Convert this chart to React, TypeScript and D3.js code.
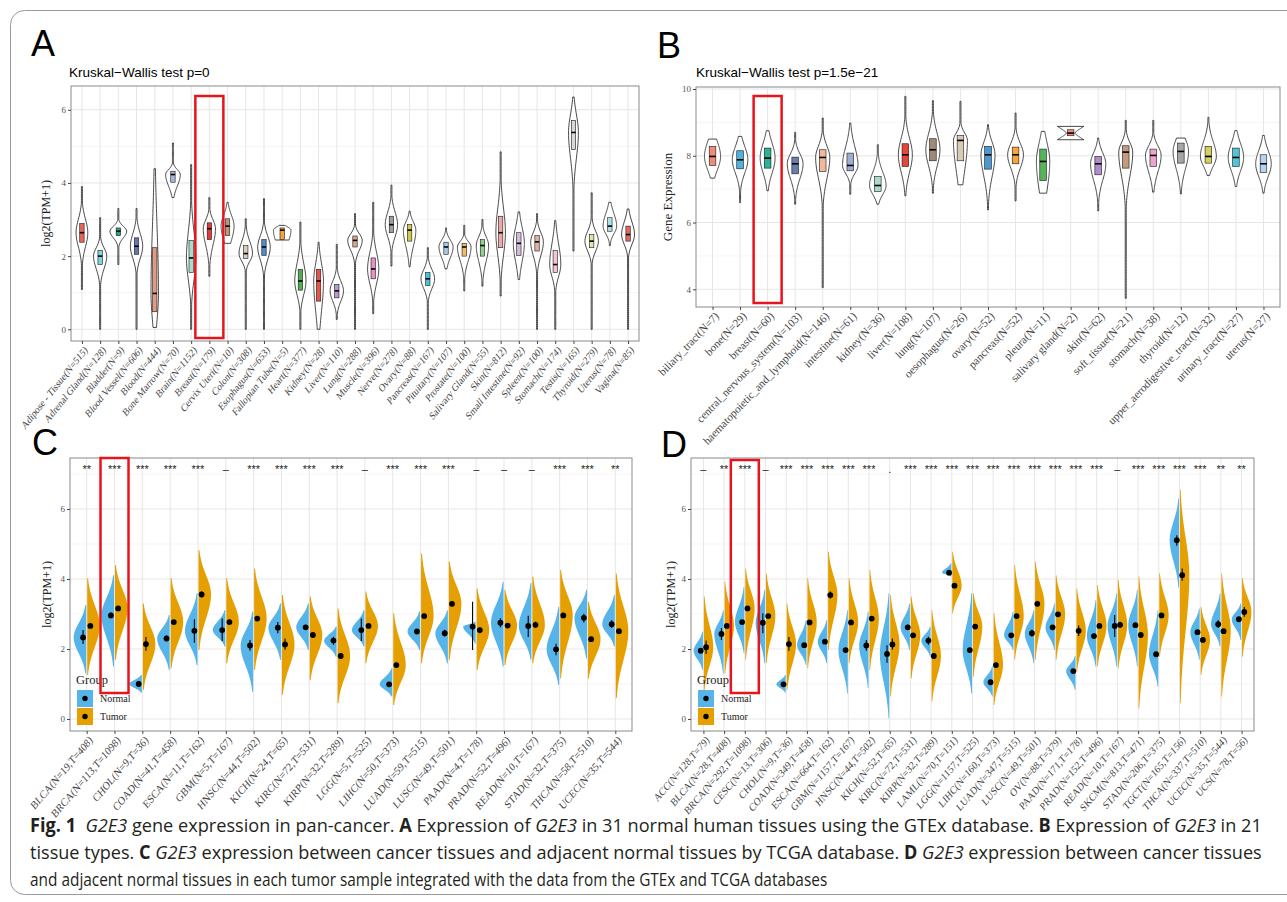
import React, { useEffect, useRef } from "react";
import * as d3 from "d3";

const W = 1287;
const H = 902;
const SERIF = "'Liberation Serif', 'DejaVu Serif', serif";
const SANS = "'Liberation Sans', Arial, sans-serif";
const CAPTION_FONT = "'Liberation Sans Narrow', 'Open Sans', 'Liberation Sans', sans-serif";
const BLUE = "#56B4E9";
const ORANGE = "#E69F00";

// ---------- Panel A: GTEx normal tissues ----------
const gtexTissues = [
  "Adipose - Tissue(N=515)", "Adrenal Gland(N=128)", "Bladder(N=9)", "Blood Vessel(N=606)", "Blood(N=444)",
  "Bone Marrow(N=70)", "Brain(N=1152)", "Breast(N=179)", "Cervix Uteri(N=10)", "Colon(N=308)",
  "Esophagus(N=653)", "Fallopian Tube(N=5)", "Heart(N=377)", "Kidney(N=28)", "Liver(N=110)",
  "Lung(N=288)", "Muscle(N=396)", "Nerve(N=278)", "Ovary(N=88)", "Pancreas(N=167)",
  "Pituitary(N=107)", "Prostate(N=100)", "Salivary Gland(N=55)", "Skin(N=812)", "Small Intestine(N=92)",
  "Spleen(N=100)", "Stomach(N=174)", "Testis(N=165)", "Thyroid(N=279)", "Uterus(N=78)", "Vagina(N=85)",
];
const gtexMedian = [2.64, 2.0, 2.68, 2.27, 0.98, 4.23, 1.95, 2.75, 2.82, 2.07, 2.25, 2.71, 1.32, 1.32, 1.05, 2.43, 1.65, 2.86, 2.71, 1.38, 2.25, 2.25, 2.29, 2.64, 2.35, 2.39, 1.77, 5.38, 2.41, 2.82, 2.59];
const gtexQ1 = [2.38, 1.77, 2.56, 2.05, 0.48, 4.02, 1.55, 2.45, 2.56, 1.93, 2.02, 2.45, 1.07, 0.77, 0.86, 2.25, 1.38, 2.64, 2.41, 1.2, 2.05, 2.0, 2.0, 2.23, 2.02, 2.14, 1.55, 4.91, 2.23, 2.68, 2.41];
const gtexQ3 = [2.89, 2.15, 2.77, 2.5, 2.23, 4.32, 2.43, 2.91, 3.02, 2.29, 2.45, 2.77, 1.64, 1.64, 1.23, 2.55, 1.95, 3.09, 2.86, 1.55, 2.38, 2.35, 2.45, 3.09, 2.64, 2.56, 2.15, 5.71, 2.59, 3.05, 2.82];
const gtexMin = [1.09, 0, 1.77, 0, 0.05, 3.6, 0, 1.45, 2.35, 0, 0, 2.44, 0, 0, 0.27, 0, 0.43, 1.73, 1.71, 0, 1.65, 1.05, 1.18, 0.91, 1.36, 0, 0, 2.14, 0, 2.29, 0];
const gtexMax = [3.9, 3.05, 3.3, 3.3, 4.39, 5.09, 4.5, 3.6, 3.47, 3.02, 3.57, 2.84, 2.93, 2.38, 2.32, 3.16, 3.47, 3.94, 3.23, 2.23, 2.77, 2.84, 3.0, 4.85, 3.21, 3.16, 2.97, 6.35, 3.73, 3.47, 3.29];
const gtexColors = [
  "#E7665B", "#7DD3E5", "#25A889", "#6677A8", "#E39A80", "#A9B9D6", "#A8DBCE", "#E33A3A", "#B09A80", "#D9CDB9",
  "#4F8CC9", "#F2A43A", "#4DB04A", "#E7544A", "#B49AD0", "#D8A68C", "#EE90C8", "#9E9E9E", "#CFCB47", "#47C4DA",
  "#A9CBEB", "#F9B866", "#8DD38D", "#F1A7A3", "#D3B9DE", "#E2B3A5", "#F2C4D4", "#D9D9D9", "#E3E3A3", "#A9E0EA", "#E7665B",
];

// ---------- Panel B: CCLE tissue types ----------
const cellTissues = [
  "biliary_tract(N=7)", "bone(N=29)", "breast(N=60)", "central_nervous_system(N=103)", "haematopoietic_and_lymphoid(N=146)",
  "intestine(N=61)", "kidney(N=36)", "liver(N=108)", "lung(N=107)", "oesophagus(N=26)", "ovary(N=52)",
  "pancreas(N=52)", "pleura(N=11)", "salivary gland(N=2)", "skin(N=62)", "soft_tissue(N=21)", "stomach(N=38)",
  "thyroid(N=12)", "upper_aerodigestive_tract(N=32)", "urinary_tract(N=27)", "uterus(N=27)",
];
const cellMedian = [7.98, 7.88, 7.93, 7.76, 7.95, 7.71, 7.11, 8.03, 8.18, 8.46, 8.03, 8.03, 7.83, 8.68, 7.76, 8.11, 8.01, 8.13, 7.98, 7.95, 7.76];
const cellQ1 = [7.71, 7.61, 7.63, 7.46, 7.53, 7.55, 6.93, 7.68, 7.85, 7.85, 7.6, 7.76, 7.26, 8.6, 7.43, 7.63, 7.68, 7.78, 7.78, 7.68, 7.5];
const cellQ3 = [8.28, 8.15, 8.23, 7.96, 8.18, 8.08, 7.38, 8.36, 8.51, 8.61, 8.28, 8.26, 8.2, 8.78, 7.98, 8.3, 8.2, 8.38, 8.28, 8.23, 8.03];
const cellMin = [7.33, 6.6, 6.95, 6.55, 4.05, 6.85, 6.55, 6.8, 6.88, 7.13, 6.38, 6.65, 6.88, 8.48, 6.35, 3.73, 6.91, 6.86, 7.41, 7.08, 6.88];
const cellMax = [8.5, 8.58, 8.75, 8.7, 9.13, 8.98, 8.33, 9.78, 9.65, 9.63, 8.93, 9.28, 8.73, 8.88, 8.53, 9.06, 9.06, 8.53, 9.15, 8.75, 8.61];
const cellColors = [
  "#F08A7A", "#4FB3E0", "#2BB39A", "#6A7DAF", "#F3B79E", "#9DAED0", "#A9DCCB", "#E5463B", "#A18A75", "#D8CAB6", "#4B98D3",
  "#F7A43A", "#56B45A", "#F08A7A", "#B28BCB", "#C49A80", "#EFA3CF", "#A6A6A6", "#D6D05D", "#4EC6D8", "#B8D3EE",
];
const bimodalTissues = ["salivary gland(N=2)"];

// ---------- Panel C: TCGA tumour vs adjacent normal ----------
const tcgaCancers = [
  "BLCA(N=19,T=408)", "BRCA(N=113,T=1098)", "CHOL(N=9,T=36)", "COAD(N=41,T=458)", "ESCA(N=11,T=162)",
  "GBM(N=5,T=167)", "HNSC(N=44,T=502)", "KICH(N=24,T=65)", "KIRC(N=72,T=531)", "KIRP(N=32,T=289)",
  "LGG(N=5,T=525)", "LIHC(N=50,T=373)", "LUAD(N=59,T=515)", "LUSC(N=49,T=501)", "PAAD(N=4,T=178)",
  "PRAD(N=52,T=496)", "READ(N=10,T=167)", "STAD(N=32,T=375)", "THCA(N=58,T=510)", "UCEC(N=35,T=544)",
];
const tcgaSig = ["**", "***", "***", "***", "***", "-", "***", "***", "***", "***", "-", "***", "***", "***", "-", "-", "-", "***", "***", "**"];
const tcgaNormalMid = [2.33, 2.96, 1.0, 2.3, 2.52, 2.54, 2.1, 2.61, 2.62, 2.24, 2.54, 0.99, 2.5, 2.45, 2.64, 2.75, 2.66, 1.99, 2.89, 2.71];
const tcgaNormalErrLo = [2.14, 2.88, 0.94, 2.22, 2.18, 2.23, 1.95, 2.45, 2.55, 2.12, 2.23, 0.95, 2.45, 2.36, 1.97, 2.62, 2.34, 1.82, 2.76, 2.6];
const tcgaNormalErrHi = [2.54, 3.04, 1.06, 2.38, 2.85, 2.87, 2.26, 2.77, 2.69, 2.35, 2.87, 1.03, 2.55, 2.55, 3.35, 2.88, 2.95, 2.15, 3.01, 2.82];
const tcgaNormalMin = [1.3, 1.5, 0.75, 1.4, 1.54, 2.07, 0.78, 1.69, 1.97, 1.78, 2.07, 0.64, 1.97, 1.59, 2.16, 1.5, 1.69, 0.97, 1.73, 2.07];
const tcgaNormalMax = [3.26, 4.11, 1.26, 2.97, 3.59, 3.11, 3.07, 3.3, 3.3, 2.64, 3.11, 1.45, 3.07, 3.11, 2.78, 3.92, 3.88, 3.21, 3.69, 3.54];
const tcgaTumorMid = [2.66, 3.16, 2.14, 2.77, 3.56, 2.77, 2.87, 2.13, 2.4, 1.8, 2.66, 1.54, 2.94, 3.29, 2.54, 2.67, 2.69, 2.96, 2.28, 2.51];
const tcgaTumorErrLo = [2.62, 3.12, 1.95, 2.72, 3.47, 2.7, 2.83, 1.98, 2.36, 1.76, 2.62, 1.5, 2.9, 3.25, 2.45, 2.63, 2.6, 2.92, 2.24, 2.45];
const tcgaTumorErrHi = [2.7, 3.2, 2.34, 2.82, 3.64, 2.84, 2.91, 2.3, 2.44, 1.84, 2.7, 1.58, 2.98, 3.33, 2.62, 2.71, 2.78, 3.0, 2.32, 2.57];
const tcgaTumorMin = [1.26, 1.69, 0.83, 1.45, 1.97, 1.59, 1.4, 0.69, 1.11, 0.45, 1.59, 0.4, 1.59, 1.69, 1.4, 1.54, 1.59, 1.16, 1.16, 0.59];
const tcgaTumorMax = [4.02, 4.4, 3.3, 4.02, 4.83, 4.02, 4.3, 3.54, 3.5, 3.16, 3.64, 3.02, 4.73, 4.5, 3.73, 3.69, 4.07, 4.26, 3.35, 4.16];

// ---------- Panel D: TCGA tumour vs GTEx + TCGA normal ----------
const pairCancers = [
  "ACC(N=128,T=79)", "BLCA(N=28,T=408)", "BRCA(N=292,T=1098)", "CESC(N=13,T=306)", "CHOL(N=9,T=36)",
  "COAD(N=349,T=458)", "ESCA(N=664,T=162)", "GBM(N=1157,T=167)", "HNSC(N=44,T=502)", "KICH(N=52,T=65)",
  "KIRC(N=72,T=531)", "KIRP(N=32,T=289)", "LAML(N=70,T=151)", "LGG(N=1157,T=525)", "LIHC(N=160,T=373)",
  "LUAD(N=347,T=515)", "LUSC(N=49,T=501)", "OV(N=88,T=379)", "PAAD(N=171,T=178)", "PRAD(N=152,T=496)",
  "READ(N=10,T=167)", "SKCM(N=813,T=471)", "STAD(N=206,T=375)", "TGCT(N=165,T=156)", "THCA(N=337,T=510)",
  "UCEC(N=35,T=544)", "UCS(N=78,T=56)",
];
const pairSig = ["-", "**", "***", "-", "***", "***", "***", "***", "***", ".", "***", "***", "***", "***", "***", "***", "***", "***", "***", "***", "-", "***", "***", "***", "***", "**", "**"];
const pairNormalMid = [1.95, 2.43, 2.77, 2.75, 0.99, 2.11, 2.21, 1.97, 2.1, 1.86, 2.62, 2.24, 4.18, 1.97, 1.05, 2.39, 2.45, 2.62, 1.37, 2.37, 2.66, 2.68, 1.85, 5.11, 2.48, 2.71, 2.85];
const pairNormalErrLo = [1.9, 2.26, 2.74, 2.45, 0.93, 2.08, 2.19, 1.95, 1.95, 1.61, 2.55, 2.12, 4.15, 1.95, 1.02, 2.35, 2.36, 2.58, 1.35, 2.33, 2.34, 2.64, 1.8, 4.95, 2.45, 2.6, 2.8];
const pairNormalErrHi = [2.0, 2.6, 2.8, 3.02, 1.06, 2.14, 2.23, 1.99, 2.26, 2.11, 2.69, 2.35, 4.21, 1.99, 1.08, 2.43, 2.55, 2.66, 1.4, 2.41, 2.97, 2.72, 1.9, 5.25, 2.51, 2.82, 2.9];
const pairNormalMin = [1.4, 1.3, 1.88, 1.59, 0.75, 1.54, 1.59, 0.73, 0.88, 0.02, 1.97, 1.78, 4.07, 0.73, 0.64, 1.97, 1.59, 1.97, 0.83, 1.5, 1.5, 1.5, 0.92, 3.75, 1.69, 2.07, 2.26];
const pairNormalMax = [2.5, 3.11, 3.78, 3.69, 1.26, 2.83, 2.83, 3.11, 3.07, 3.59, 3.3, 2.64, 4.45, 3.59, 1.5, 3.07, 3.11, 3.3, 1.8, 3.4, 3.59, 3.69, 3.11, 6.3, 3.16, 3.59, 3.3];
const pairTumorMid = [2.05, 2.66, 3.16, 2.94, 2.14, 2.76, 3.54, 2.76, 2.87, 2.13, 2.39, 1.8, 3.81, 2.64, 1.54, 2.94, 3.29, 2.99, 2.52, 2.66, 2.69, 2.4, 2.96, 4.11, 2.26, 2.51, 3.06];
const pairTumorErrLo = [1.86, 2.62, 3.12, 2.9, 1.95, 2.72, 3.44, 2.7, 2.83, 1.98, 2.35, 1.76, 3.76, 2.6, 1.5, 2.9, 3.25, 2.95, 2.37, 2.62, 2.6, 2.35, 2.92, 3.95, 2.22, 2.45, 2.92];
const pairTumorErrHi = [2.24, 2.7, 3.2, 2.98, 2.34, 2.8, 3.64, 2.82, 2.91, 2.3, 2.43, 1.84, 3.86, 2.68, 1.58, 2.98, 3.33, 3.03, 2.67, 2.7, 2.78, 2.45, 3.0, 4.3, 2.3, 2.57, 3.2];
const pairTumorMin = [0.83, 1.3, 1.69, 1.59, 0.83, 1.45, 1.97, 1.59, 1.4, 0.64, 1.16, 0.5, 3.02, 1.21, 0.4, 1.69, 1.69, 1.69, 1.35, 1.5, 1.45, 0.3, 1.78, 0.45, 1.26, 0.64, 1.78];
const pairTumorMax = [3.5, 3.92, 4.3, 4.16, 3.3, 4.02, 4.78, 4.02, 4.26, 3.54, 3.5, 3.11, 4.78, 3.59, 3.02, 4.4, 4.5, 4.11, 3.73, 3.83, 3.97, 4.07, 4.16, 6.55, 3.21, 4.16, 4.02];

const groups = ["Normal", "Tumor"];

// caption pieces: [style, text]
const captionLines: [string, string][][] = [
  [["b", "Fig. 1"], ["", "  "], ["i", "G2E3"], ["", " gene expression in pan-cancer. "], ["b", "A"], ["", " Expression of "], ["i", "G2E3"],
   ["", " in 31 normal human tissues using the GTEx database. "], ["b", "B"], ["", " Expression of "], ["i", "G2E3"], ["", " in 21"]],
  [["", "tissue types. "], ["b", "C"], ["", " "], ["i", "G2E3"], ["", " expression between cancer tissues and adjacent normal tissues by TCGA database. "],
   ["b", "D"], ["", " "], ["i", "G2E3"], ["", " expression between cancer tissues"]],
  [["", "and adjacent normal tissues in each tumor sample integrated with the data from the GTEx and TCGA databases"]],
];

type Box = { x0: number; x1: number; y0: number; y1: number };

// background, grid, returns scales
function makeFrame(g: any, cats: string[], box: Box, yDomain: number[], majors: number[], minors: number[]) {
  const x = d3.scalePoint<string>().domain(cats).range([box.x0, box.x1]).padding(0.6);
  const y = d3.scaleLinear().domain(yDomain).range([box.y1, box.y0]);
  g.append("rect").attr("x", box.x0).attr("y", box.y0).attr("width", box.x1 - box.x0).attr("height", box.y1 - box.y0).attr("fill", "#fff");
  g.selectAll(".minor").data(minors).join("line").attr("class", "minor")
    .attr("x1", box.x0).attr("x2", box.x1).attr("y1", (d: number) => y(d)).attr("y2", (d: number) => y(d))
    .attr("stroke", "#EFEFEF").attr("stroke-width", 0.6);
  g.selectAll(".majory").data(majors).join("line").attr("class", "majory")
    .attr("x1", box.x0).attr("x2", box.x1).attr("y1", (d: number) => y(d)).attr("y2", (d: number) => y(d))
    .attr("stroke", "#E6E6E6").attr("stroke-width", 1);
  g.selectAll(".majorx").data(cats).join("line").attr("class", "majorx")
    .attr("x1", (d: string) => x(d)).attr("x2", (d: string) => x(d)).attr("y1", box.y0).attr("y2", box.y1)
    .attr("stroke", "#E6E6E6").attr("stroke-width", 1);
  return { x, y };
}

// border, axes, tick labels
function drawAxes(g: any, x: any, y: any, box: Box, majors: number[], labelSize: number, squeeze: number,
  yTitle: string, yTitleX: number, yTitleSize: number) {
  g.append("rect").attr("x", box.x0).attr("y", box.y0).attr("width", box.x1 - box.x0).attr("height", box.y1 - box.y0)
    .attr("fill", "none").attr("stroke", "#8a8a8a").attr("stroke-width", 1);

  const ya = g.append("g").attr("transform", `translate(${box.x0},0)`)
    .call(d3.axisLeft(y).tickValues(majors).tickSize(3).tickPadding(2).tickFormat(d3.format("d")));
  ya.select(".domain").remove();
  ya.selectAll("line").attr("stroke", "#444");
  ya.selectAll("text").attr("font-family", SERIF).attr("font-size", 9).attr("fill", "#555");

  const xa = g.append("g").attr("transform", `translate(0,${box.y1})`).call(d3.axisBottom(x).tickSize(3));
  xa.select(".domain").remove();
  xa.selectAll("line").attr("stroke", "#444");
  xa.selectAll("text")
    .attr("x", 0).attr("y", 0).attr("dy", "0.6em")
    .attr("text-anchor", "end")
    .attr("transform", `translate(2,5) scale(${squeeze},1) rotate(-45)`)
    .attr("font-family", SERIF).attr("font-size", labelSize).attr("fill", "#444");

  g.append("text").attr("transform", `translate(${yTitleX},${(box.y0 + box.y1) / 2}) rotate(-90)`)
    .attr("text-anchor", "middle").attr("font-family", SERIF).attr("font-size", yTitleSize).attr("fill", "#222").text(yTitle);
}

function drawFullViolins(g: any, x: any, y: any, cats: string[], med: number[], q1: number[], q3: number[],
  lo: number[], hi: number[], colors: string[], bimodal: string[]) {
  const step = x.step();
  const n = 60;
  const grids = cats.map((_, i) => d3.range(n + 1).map((k) => lo[i] + ((hi[i] - lo[i]) * k) / n));
  const fs = cats.map((c, i) => (v: number) => {
    if (bimodal.includes(c)) {
      const r = Math.abs(v - med[i]) / Math.max(hi[i] - med[i], med[i] - lo[i]);
      return 0.3 + 0.7 * Math.pow(r, 1.2);
    }
    const s = v >= med[i] ? (q3[i] - med[i]) / 0.6745 : (med[i] - q1[i]) / 0.6745;
    const z = (v - med[i]) / Math.max(s, 0.03);
    return Math.exp(-0.5 * z * z);
  });
  const areas = grids.map((gr, i) => (d3.sum(gr, (v) => fs[i](v)) * (hi[i] - lo[i])) / n);
  const k = areas.map((a) => Math.pow(a, -0.4));
  const kMax = d3.max(k) as number;
  const line = d3.line();
  cats.forEach((c, i) => {
    const cx = x(c);
    const hw = (0.48 * step * k[i]) / kMax;
    const right = grids[i].map((v) => [cx + Math.max(hw * fs[i](v), 0.5), y(v)]);
    const left = grids[i].slice().reverse().map((v) => [cx - Math.max(hw * fs[i](v), 0.5), y(v)]);
    g.append("path").attr("d", line([...right, ...left] as any) + "Z")
      .attr("fill", "#fff").attr("stroke", "#1a1a1a").attr("stroke-width", 0.8);
    const bw = 0.24 * step;
    g.append("rect").attr("x", cx - bw / 2).attr("y", y(q3[i])).attr("width", bw).attr("height", y(q1[i]) - y(q3[i]))
      .attr("fill", colors[i]).attr("stroke", "#1a1a1a").attr("stroke-width", 0.6);
    g.append("line").attr("x1", cx - bw / 2).attr("x2", cx + bw / 2).attr("y1", y(med[i])).attr("y2", y(med[i]))
      .attr("stroke", "#000").attr("stroke-width", 1.6);
  });
}

function drawSplitViolins(g: any, x: any, y: any, cats: string[],
  nMid: number[], nLo: number[], nHi: number[], nEl: number[], nEh: number[],
  tMid: number[], tLo: number[], tHi: number[], tEl: number[], tEh: number[]) {
  const step = x.step();
  const hw = 0.45 * step;
  const off = 0.13 * step;
  const line = d3.line();
  const half = (cx: number, dir: number, mid: number, lo: number, hi: number, color: string) => {
    const grid = d3.range(61).map((k) => lo + ((hi - lo) * k) / 60);
    const f = (v: number) => {
      const s = (v >= mid ? hi - mid : mid - lo) / 2.3;
      const z = (v - mid) / Math.max(s, 0.02);
      return Math.exp(-0.5 * z * z);
    };
    const pts = [[cx + dir * 0.5, y(lo)], ...grid.map((v) => [cx + dir * (0.5 + hw * f(v)), y(v)]), [cx + dir * 0.5, y(hi)]];
    g.append("path").attr("d", line(pts as any) + "Z").attr("fill", color);
  };
  cats.forEach((c, i) => {
    const cx = x(c);
    half(cx, -1, nMid[i], nLo[i], nHi[i], BLUE);
    half(cx, 1, tMid[i], tLo[i], tHi[i], ORANGE);
  });
  cats.forEach((c, i) => {
    const cx = x(c);
    [[cx - off, nMid[i], nEl[i], nEh[i]], [cx + off, tMid[i], tEl[i], tEh[i]]].forEach(([px, m, el, eh]) => {
      g.append("line").attr("x1", px).attr("x2", px).attr("y1", y(el)).attr("y2", y(eh)).attr("stroke", "#000").attr("stroke-width", 1.1);
      g.append("circle").attr("cx", px).attr("cy", y(m)).attr("r", 2.9).attr("fill", "#000");
    });
  });
}

function drawSig(g: any, x: any, box: Box, cats: string[], sig: string[]) {
  g.selectAll(".sig").data(cats).join("text").attr("class", "sig")
    .attr("x", (d: string) => x(d)).attr("y", box.y0 + 15)
    .attr("text-anchor", "middle").attr("font-family", SANS).attr("font-size", 11).attr("fill", "#222")
    .text((_: string, i: number) => (sig[i] === "-" ? "–" : sig[i]));
}

function drawLegend(g: any, lx: number, ly: number) {
  g.append("text").attr("x", lx).attr("y", ly).attr("font-family", SERIF).attr("font-size", 12.5).attr("fill", "#222").text("Group");
  groups.forEach((name, i) => {
    const top = ly + 6 + i * 18;
    g.append("rect").attr("x", lx + 1).attr("y", top).attr("width", 16).attr("height", 17).attr("fill", i === 0 ? BLUE : ORANGE);
    g.append("circle").attr("cx", lx + 9).attr("cy", top + 8.5).attr("r", 2.7).attr("fill", "#000");
    g.append("text").attr("x", lx + 24).attr("y", top + 12).attr("font-family", SERIF).attr("font-size", 10).attr("fill", "#222").text(name);
  });
}

function highlight(g: any, x: any, cat: string, top: number, bottom: number) {
  const cx = x(cat);
  g.append("rect").attr("x", cx - 14).attr("y", top).attr("width", 28).attr("height", bottom - top)
    .attr("fill", "none").attr("stroke", "#E8141B").attr("stroke-width", 2.5);
}

export default function App() {
  const svgRef = useRef<SVGSVGElement>(null);

  useEffect(() => {
    const svg = d3.select(svgRef.current);
    svg.selectAll("*").remove();
    svg.append("rect").attr("width", W).attr("height", H).attr("fill", "#fff");

    const defs = svg.append("defs");
    const clip = (id: string, x0: number, w: number) =>
      defs.append("clipPath").attr("id", id).append("rect").attr("x", x0).attr("y", 0).attr("width", w).attr("height", H);
    clip("clipA", 20, 621);
    clip("clipB", 641, 646);
    clip("clipC", 30, 611);
    clip("clipD", 641, 646);

    // outer frame
    svg.append("rect").attr("x", 10.5).attr("y", 10.5).attr("width", 1300).attr("height", 884).attr("rx", 14)
      .attr("fill", "none").attr("stroke", "#9a9a9a").attr("stroke-width", 1);

    const letter = (t: string, lx: number, ly: number) =>
      svg.append("text").attr("x", lx).attr("y", ly).attr("font-family", SANS).attr("font-size", 36).attr("fill", "#000").text(t);

    // Panel A
    {
      const g = svg.append("g").attr("clip-path", "url(#clipA)");
      const box = { x0: 71, x1: 639, y0: 86, y1: 341 };
      const { x, y } = makeFrame(g, gtexTissues, box, [-0.32, 6.65], [0, 2, 4, 6], [1, 3, 5]);
      drawFullViolins(g, x, y, gtexTissues, gtexMedian, gtexQ1, gtexQ3, gtexMin, gtexMax, gtexColors, []);
      drawAxes(g, x, y, box, [0, 2, 4, 6], 11, 0.8, "log2(TPM+1)", 50, 12);
      highlight(g, x, "Breast(N=179)", 96, 338);
      letter("A", 31, 56);
      svg.append("text").attr("x", 69).attr("y", 77).attr("font-family", SANS).attr("font-size", 13.5).text("Kruskal\u2212Wallis test p=0");
    }

    // Panel B
    {
      const g = svg.append("g").attr("clip-path", "url(#clipB)");
      const box = { x0: 696, x1: 1280, y0: 87, y1: 307 };
      const { x, y } = makeFrame(g, cellTissues, box, [3.47, 10.06], [4, 6, 8, 10], [5, 7, 9]);
      drawFullViolins(g, x, y, cellTissues, cellMedian, cellQ1, cellQ3, cellMin, cellMax, cellColors, bimodalTissues);
      drawAxes(g, x, y, box, [4, 6, 8, 10], 11.5, 0.95, "Gene Expression", 672, 13);
      highlight(g, x, "breast(N=60)", 96, 303);
      letter("B", 657, 58);
      svg.append("text").attr("x", 696).attr("y", 77).attr("font-family", SANS).attr("font-size", 13.5).text("Kruskal\u2212Wallis test p=1.5e\u221221");
    }

    // Panel C
    {
      const g = svg.append("g").attr("clip-path", "url(#clipC)");
      const box = { x0: 70, x1: 632, y0: 458, y1: 731 };
      const { x, y } = makeFrame(g, tcgaCancers, box, [-0.343, 7.457], [0, 2, 4, 6], [1, 3, 5, 7]);
      drawSplitViolins(g, x, y, tcgaCancers,
        tcgaNormalMid, tcgaNormalMin, tcgaNormalMax, tcgaNormalErrLo, tcgaNormalErrHi,
        tcgaTumorMid, tcgaTumorMin, tcgaTumorMax, tcgaTumorErrLo, tcgaTumorErrHi);
      drawSig(g, x, box, tcgaCancers, tcgaSig);
      drawLegend(g, 76, 684);
      drawAxes(g, x, y, box, [0, 2, 4, 6], 11.5, 0.85, "log2(TPM+1)", 51, 12);
      highlight(g, x, "BRCA(N=113,T=1098)", 458, 693);
      letter("C", 32, 455);
    }

    // Panel D
    {
      const g = svg.append("g").attr("clip-path", "url(#clipD)");
      const box = { x0: 691, x1: 1254, y0: 458, y1: 731 };
      const { x, y } = makeFrame(g, pairCancers, box, [-0.343, 7.457], [0, 2, 4, 6], [1, 3, 5, 7]);
      drawSplitViolins(g, x, y, pairCancers,
        pairNormalMid, pairNormalMin, pairNormalMax, pairNormalErrLo, pairNormalErrHi,
        pairTumorMid, pairTumorMin, pairTumorMax, pairTumorErrLo, pairTumorErrHi);
      drawSig(g, x, box, pairCancers, pairSig);
      drawLegend(g, 697, 684);
      drawAxes(g, x, y, box, [0, 2, 4, 6], 11, 0.85, "log2(TPM+1)", 675, 12);
      highlight(g, x, "BRCA(N=292,T=1098)", 460, 693);
      letter("D", 661, 457);
    }

    // caption: natural text widths, squeezed horizontally to the column width
    const cap = svg.append("g").attr("font-family", CAPTION_FONT).attr("font-size", 19).attr("fill", "#231f20");
    const capY = [832, 859, 886];
    const capLen = [1232, 1232, 798];
    captionLines.forEach((parts, li) => {
      const t = cap.append("text").attr("x", 0).attr("y", 0).style("white-space", "pre");
      parts.forEach(([st, s]) => {
        t.append("tspan").attr("font-weight", st === "b" ? "bold" : null).attr("font-style", st === "i" ? "italic" : null).text(s);
      });
      const natural = (t.node() as SVGTextElement).getComputedTextLength() || capLen[li];
      t.attr("transform", `translate(30,${capY[li]}) scale(${capLen[li] / natural},1)`);
    });
  }, []);

  return (
    <div style={{ position: "absolute", left: 0, top: 0 }}>
      <svg ref={svgRef} width={W} height={H} />
    </div>
  );
}
